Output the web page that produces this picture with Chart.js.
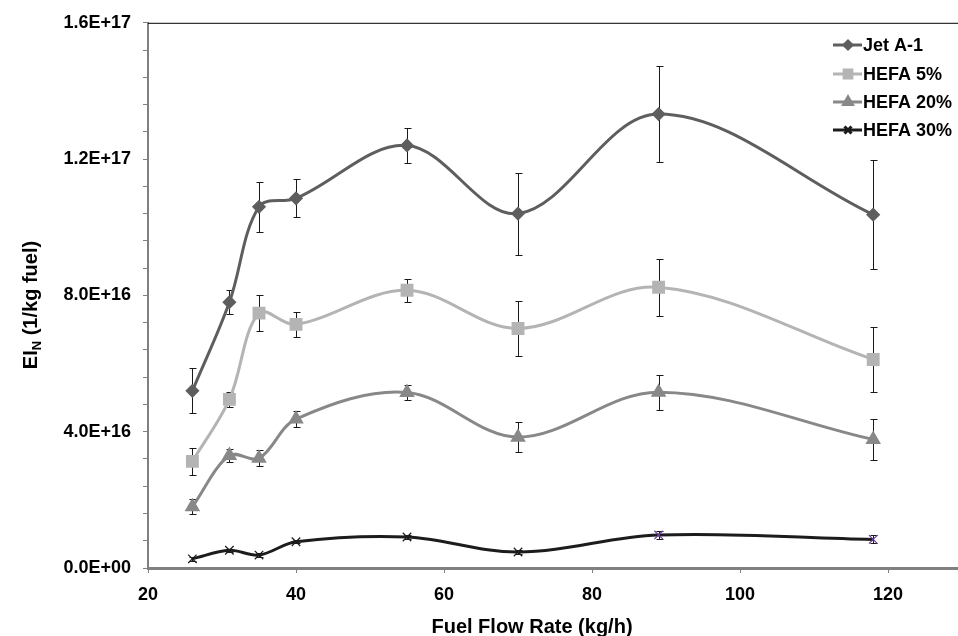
<!DOCTYPE html>
<html>
<head>
<meta charset="utf-8">
<script src="https://cdn.jsdelivr.net/npm/chart.js@4.4.1/dist/chart.umd.min.js"></script>
<style>
  html, body { margin: 0; padding: 0; background: #fff; overflow: hidden; }
  #wrap { width: 958px; height: 636px; overflow: hidden; }
</style>
</head>
<body>
<div id="wrap"><canvas id="chart" width="972" height="636"></canvas></div>
<script>
// fuel flow rate (kg/h)
const flowRate = [26, 31, 35, 40, 55, 70, 89, 118];

// EI_N (1/kg fuel) per fuel blend, with +/- error
const jetA1 = [5.2e16, 7.8e16, 10.6e16, 10.85e16, 12.4e16, 10.4e16, 13.32e16, 10.37e16];
const jetA1Err = [6.6e15, 3.5e15, 7.3e15, 5.6e15, 5.0e15, 1.2e16, 1.4e16, 1.6e16];

const hefa5 = [3.13e16, 4.95e16, 7.48e16, 7.15e16, 8.15e16, 7.03e16, 8.24e16, 6.12e16];
const hefa5Err = [4.0e15, 2.2e15, 5.2e15, 3.6e15, 3.3e15, 8.0e15, 8.3e15, 9.5e15];

const hefa20 = [1.8e16, 3.3e16, 3.22e16, 4.37e16, 5.15e16, 3.84e16, 5.16e16, 3.77e16];
const hefa20Err = [2.2e15, 1.8e15, 2.3e15, 2.3e15, 2.2e15, 4.4e15, 5.1e15, 6.0e15];

const hefa30 = [2.7e15, 5.2e15, 3.8e15, 7.7e15, 9.1e15, 4.7e15, 9.7e15, 8.4e15];
const hefa30Err = [5e14, 5e14, 5e14, 5e14, 5e14, 5e14, 1.2e15, 1.2e15];

const seriesNames = ['Jet A-1', 'HEFA 5%', 'HEFA 20%', 'HEFA 30%'];
const xTicks = [20, 40, 60, 80, 100, 120];

const FONT = '"Liberation Sans", Arial, sans-serif';

function toPoints(ys) {
  return flowRate.map((x, i) => ({ x: x, y: ys[i] }));
}

// 1.6E+17 style labels
function sciLabel(v) {
  if (v === 0) return '0.0E+00';
  const exp = Math.floor(Math.log10(v) + 1e-9);
  const mant = v / Math.pow(10, exp);
  return mant.toFixed(1) + 'E+' + String(exp).padStart(2, '0');
}

const errorBars = {
  id: 'errorBars',
  beforeDatasetsDraw(chart) {
    const ctx = chart.ctx;
    const y = chart.scales.y;
    ctx.save();
    ctx.strokeStyle = '#1a1a1a';
    ctx.lineWidth = 1;
    chart.data.datasets.forEach((ds, i) => {
      const meta = chart.getDatasetMeta(i);
      meta.data.forEach((pt, j) => {
        const v = ds.data[j].y;
        const e = ds.errors[j];
        const top = Math.round(y.getPixelForValue(v + e)) + 0.5;
        const bot = Math.round(y.getPixelForValue(v - e)) + 0.5;
        const x = Math.round(pt.x) + 0.5;
        ctx.beginPath();
        ctx.moveTo(x, top); ctx.lineTo(x, bot);
        ctx.moveTo(x - 3, top); ctx.lineTo(x + 4, top);
        ctx.moveTo(x - 3, bot); ctx.lineTo(x + 4, bot);
        ctx.stroke();
      });
    });
    ctx.restore();
  }
};

const decorations = {
  id: 'decorations',
  afterDraw(chart) {
    const ctx = chart.ctx;
    const area = chart.chartArea;
    ctx.save();

    // top edge of the plot area
    ctx.strokeStyle = '#000';
    ctx.lineWidth = 1;
    ctx.beginPath();
    ctx.moveTo(area.left, area.top + 0.5);
    ctx.lineTo(area.right, area.top + 0.5);
    ctx.stroke();

    // x axis title
    ctx.fillStyle = '#000';
    ctx.font = 'bold 20px ' + FONT;
    ctx.textAlign = 'center';
    ctx.textBaseline = 'alphabetic';
    ctx.fillText('Fuel Flow Rate (kg/h)', 532, 633);

    // y axis title with subscript N
    const big = 'bold 20px ' + FONT;
    const small = 'bold 13px ' + FONT;
    ctx.font = big;
    const wEI = ctx.measureText('EI').width;
    const wRest = ctx.measureText(' (1/kg fuel)').width;
    ctx.font = small;
    const wN = ctx.measureText('N').width;
    const total = wEI + wN + wRest;
    ctx.translate(37, 305);
    ctx.rotate(-Math.PI / 2);
    ctx.textAlign = 'left';
    let tx = -total / 2;
    ctx.font = big;
    ctx.fillText('EI', tx, 0);
    tx += wEI;
    ctx.font = small;
    ctx.fillText('N', tx, 4);
    tx += wN;
    ctx.font = big;
    ctx.fillText(' (1/kg fuel)', tx, 0);
    ctx.setTransform(1, 0, 0, 1, 0, 0);

    // legend
    const lx0 = 833, lx1 = 862, mx = 848;
    const rows = [45, 74, 102, 130];
    ctx.font = 'bold 18px ' + FONT;
    ctx.textBaseline = 'middle';
    chart.data.datasets.forEach((ds, i) => {
      const ry = rows[i];
      ctx.strokeStyle = ds.borderColor;
      ctx.lineWidth = 3;
      ctx.beginPath();
      ctx.moveTo(lx0, ry); ctx.lineTo(lx1, ry);
      ctx.stroke();
      ctx.fillStyle = ds.pointBackgroundColor;
      ctx.strokeStyle = i === 3 ? '#1a1a1a' : ds.pointBackgroundColor;
      Chart.helpers.drawPoint(ctx, {
        pointStyle: ds.pointStyle,
        radius: ds.legendRadius,
        borderWidth: 1,
        rotation: 0
      }, mx, ry);
      ctx.fillStyle = '#000';
      ctx.fillText(seriesNames[i], 863, ry + 1);
    });

    ctx.restore();
  }
};

const ctx = document.getElementById('chart');
new Chart(ctx, {
  type: 'line',
  data: {
    datasets: [
      {
        label: seriesNames[0],
        data: toPoints(jetA1),
        errors: jetA1Err,
        borderColor: '#5e5e5e',
        backgroundColor: '#5e5e5e',
        pointBackgroundColor: '#5e5e5e',
        pointBorderColor: '#5e5e5e',
        borderWidth: 3,
        pointStyle: 'rectRot',
        pointRadius: 5,
        legendRadius: 4,
        tension: 0.35
      },
      {
        label: seriesNames[1],
        data: toPoints(hefa5),
        errors: hefa5Err,
        borderColor: '#b4b4b4',
        backgroundColor: '#b4b4b4',
        pointBackgroundColor: '#b4b4b4',
        pointBorderColor: '#b4b4b4',
        borderWidth: 3,
        pointStyle: 'rect',
        pointRadius: 7,
        legendRadius: 5.5,
        tension: 0.35
      },
      {
        label: seriesNames[2],
        data: toPoints(hefa20),
        errors: hefa20Err,
        borderColor: '#888888',
        backgroundColor: '#888888',
        pointBackgroundColor: '#888888',
        pointBorderColor: '#888888',
        borderWidth: 3,
        pointStyle: 'triangle',
        pointRadius: 6,
        legendRadius: 5,
        tension: 0.35
      },
      {
        label: seriesNames[3],
        data: toPoints(hefa30),
        errors: hefa30Err,
        borderColor: '#1c1c1c',
        backgroundColor: '#1c1c1c',
        pointBackgroundColor: '#1c1c1c',
        pointBorderColor: ['#1c1c1c', '#1c1c1c', '#1c1c1c', '#1c1c1c', '#1c1c1c', '#1c1c1c', '#6b3fa0', '#6b3fa0'],
        pointBorderWidth: 1.2,
        borderWidth: 3,
        pointStyle: 'crossRot',
        pointRadius: 6,
        legendRadius: 5,
        tension: 0.35
      }
    ]
  },
  options: {
    responsive: false,
    animation: false,
    layout: { padding: { top: 22, right: 0, bottom: 0, left: 0 } },
    plugins: {
      legend: { display: false },
      tooltip: { enabled: false }
    },
    scales: {
      x: {
        type: 'linear',
        min: 20,
        max: 130,
        afterBuildTicks(scale) {
          scale.ticks = xTicks.map(v => ({ value: v }));
        },
        afterFit(scale) { scale.height = 68; },
        ticks: {
          color: '#000',
          font: { family: FONT, size: 18, weight: 'bold' },
          padding: 11,
          maxRotation: 0,
          autoSkip: false
        },
        grid: {
          drawOnChartArea: false,
          color: '#808080',
          tickLength: 5,
          lineWidth: 1
        },
        border: { color: '#808080', width: 3 }
      },
      y: {
        min: 0,
        max: 1.6e17,
        afterFit(scale) { scale.width = 148; },
        ticks: {
          stepSize: 8e15,
          color: '#000',
          font: { family: FONT, size: 18, weight: 'bold' },
          padding: 12,
          autoSkip: false,
          callback(v) {
            const k = v / 4e16;
            return Math.abs(k - Math.round(k)) < 1e-6 ? sciLabel(v) : '';
          }
        },
        grid: {
          drawOnChartArea: false,
          color: '#808080',
          tickLength: 5,
          lineWidth: 1
        },
        border: { color: '#808080', width: 2 }
      }
    }
  },
  plugins: [errorBars, decorations]
});
</script>
</body>
</html>
